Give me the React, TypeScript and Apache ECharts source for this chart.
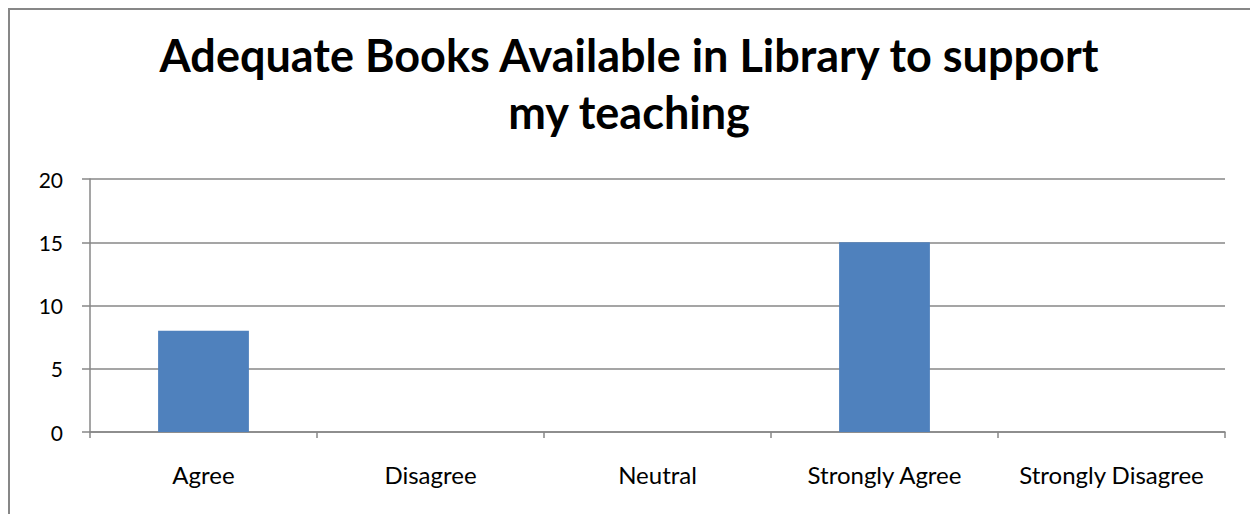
import React, { useEffect, useRef } from "react";
import * as echarts from "echarts";

const categories = ["Agree", "Disagree", "Neutral", "Strongly Agree", "Strongly Disagree"];
const values = [8, 0, 0, 15, 0];
const titleText = "Adequate Books Available in Library to support\nmy teaching";
const yMin = 0;
const yMax = 20;
const yInterval = 5;

export default function App() {
  const ref = useRef<HTMLDivElement>(null);
  useEffect(() => {
    const chart = echarts.init(ref.current!, null, { renderer: "svg" });
    const font = "Lato, 'Open Sans', sans-serif";
    chart.setOption({
      animation: false,
      backgroundColor: "#ffffff",
      title: {
        text: titleText,
        left: "center",
        top: 13,
        textStyle: {
          fontFamily: font,
          fontWeight: "bold",
          fontSize: 45,
          lineHeight: 57,
          color: "#000000",
        },
      },
      graphic: [
        { type: "line", shape: { x1: 1, y1: 0, x2: 1, y2: 506 }, style: { stroke: "#878787", lineWidth: 2 } },
        { type: "line", shape: { x1: 0, y1: 1, x2: 1242, y2: 1 }, style: { stroke: "#878787", lineWidth: 2 } },
      ],
      grid: { left: 82, right: 25, top: 171, bottom: 82, containLabel: false },
      xAxis: {
        type: "category",
        data: categories,
        boundaryGap: true,
        axisLine: { lineStyle: { color: "#878787", width: 1.5 } },
        axisTick: { show: true, length: 6, alignWithLabel: false, lineStyle: { color: "#878787", width: 1.5 } },
        axisLabel: { fontFamily: font, fontSize: 24, color: "#000000", margin: 30, interval: 0 },
      },
      yAxis: {
        type: "value",
        min: yMin,
        max: yMax,
        interval: yInterval,
        axisLine: { show: true, lineStyle: { color: "#878787", width: 1.5 } },
        axisTick: { show: true, length: 8, lineStyle: { color: "#878787", width: 1.5 } },
        splitLine: { show: true, lineStyle: { color: "#878787", width: 1.5 } },
        axisLabel: { fontFamily: font, fontSize: 21, color: "#000000", margin: 27 },
      },
      series: [
        {
          type: "bar",
          data: values,
          barWidth: "40%",
          itemStyle: { color: "#4F81BD" },
        },
      ],
    });
    return () => chart.dispose();
  }, []);
  return (
    <div
      ref={ref}
      style={{ position: "fixed", left: 8, top: 8, width: 1242, height: 506, overflow: "hidden" }}
    />
  );
}
